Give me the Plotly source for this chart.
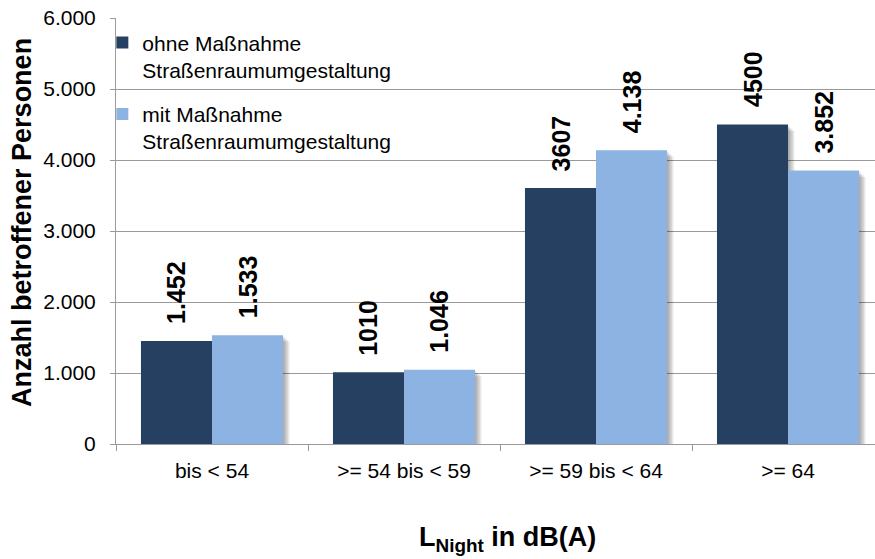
import plotly.graph_objects as go

# Lärmpegelklassen (L_Night) und Anzahl betroffener Personen
categories = ["bis < 54", ">= 54 bis < 59", ">= 59 bis < 64", ">= 64"]
ohne_values = [1452, 1010, 3607, 4500]
mit_values = [1533, 1046, 4138, 3852]
ohne_labels = ["1.452", "1010", "3607", "4500"]
mit_labels = ["1.533", "1.046", "4.138", "3.852"]
series_names = [
    "ohne Maßnahme<br>Straßenraumumgestaltung",
    "mit Maßnahme<br>Straßenraumumgestaltung",
]
y_ticks = [0, 1000, 2000, 3000, 4000, 5000, 6000]

FONT = "Liberation Sans, Arial, sans-serif"
DARK = "#254061"
LIGHT = "#8DB3E2"
GRID = "#9a9a9a"

BAR_W = 0.37
series = [
    ("ohne", series_names[0], ohne_values, ohne_labels, DARK, -BAR_W),
    ("mit", series_names[1], mit_values, mit_labels, LIGHT, 0.0),
]

fig = go.Figure()

# soft drop shadow behind the bars (several faint layers)
x_unit_px = 192.0
y_unit_px = 426.0 / 6000.0
for key, name, vals, _, _, off in series:
    for k in range(1, 5):
        d = 1.6 * k
        fig.add_trace(go.Bar(
            x=categories, y=vals,
            base=[-d / y_unit_px] * len(vals),
            offset=off + d / x_unit_px, width=BAR_W,
            marker=dict(color="rgba(0,0,0,0.09)", line=dict(width=0)),
            showlegend=False, hoverinfo="skip",
        ))

for key, name, vals, labels, color, off in series:
    fig.add_trace(go.Bar(
        x=categories, y=vals, name=name, legendgroup=key,
        offset=off, width=BAR_W,
        marker=dict(color=color, line=dict(width=0)),
    ))

annotations = []
for key, name, vals, labels, color, off in series:
    for i, (v, lab) in enumerate(zip(vals, labels)):
        annotations.append(dict(
            x=i + off + BAR_W / 2, y=v, xref="x", yref="y",
            text=lab, textangle=-90, showarrow=False,
            xanchor="center", yanchor="bottom", yshift=15,
            font=dict(family=FONT, size=25, color="black", weight="bold"),
        ))

annotations.append(dict(
    x=-0.124, y=0.521, xref="paper", yref="paper",
    text="Anzahl betroffener Personen", textangle=-90, showarrow=False,
    xanchor="center", yanchor="middle",
    font=dict(family=FONT, size=27, color="black", weight="bold"),
))
annotations.append(dict(
    x=0.516, y=-0.223, xref="paper", yref="paper",
    text="L<sub>Night</sub> in dB(A)", showarrow=False,
    xanchor="center", yanchor="middle",
    font=dict(family=FONT, size=27, color="black", weight="bold"),
))

fig.update_layout(
    width=875, height=559,
    margin=dict(l=116, r=0, t=18, b=115),
    paper_bgcolor="white", plot_bgcolor="white",
    barmode="overlay",
    separators=",.",
    font=dict(family=FONT, size=21, color="black"),
    annotations=annotations,
    shapes=[dict(
        type="rect", xref="paper", yref="paper", layer="between",
        x0=0.003, x1=(403 - 116) / 759, y0=(444 - 161) / 426, y1=(444 - 20) / 426,
        fillcolor="white", line=dict(width=0),
    )],
    legend=dict(
        x=-0.018, y=0.99, xanchor="left", yanchor="top",
        bgcolor="rgba(0,0,0,0)", borderwidth=0,
        font=dict(family=FONT, size=21, color="black"),
        valign="top", tracegroupgap=14, traceorder="grouped",
    ),
    xaxis=dict(
        type="category", categoryorder="array", categoryarray=categories,
        range=[-0.5, 3.453],
        showgrid=False, showline=True, linecolor=GRID, linewidth=1,
        ticks="outside", tickson="boundaries", ticklen=6, tickcolor=GRID,
        ticklabelstandoff=8,
        tickfont=dict(family=FONT, size=21, color="black"),
    ),
    yaxis=dict(
        range=[0, 6000], tickvals=y_ticks, tickformat=",d",
        showgrid=True, gridcolor=GRID, gridwidth=1, zeroline=False,
        showline=True, linecolor=GRID, linewidth=1,
        ticks="outside", ticklen=5, tickcolor=GRID,
        ticklabelstandoff=10,
        tickfont=dict(family=FONT, size=21, color="black"),
    ),
)

fig.write_html("out.html")
